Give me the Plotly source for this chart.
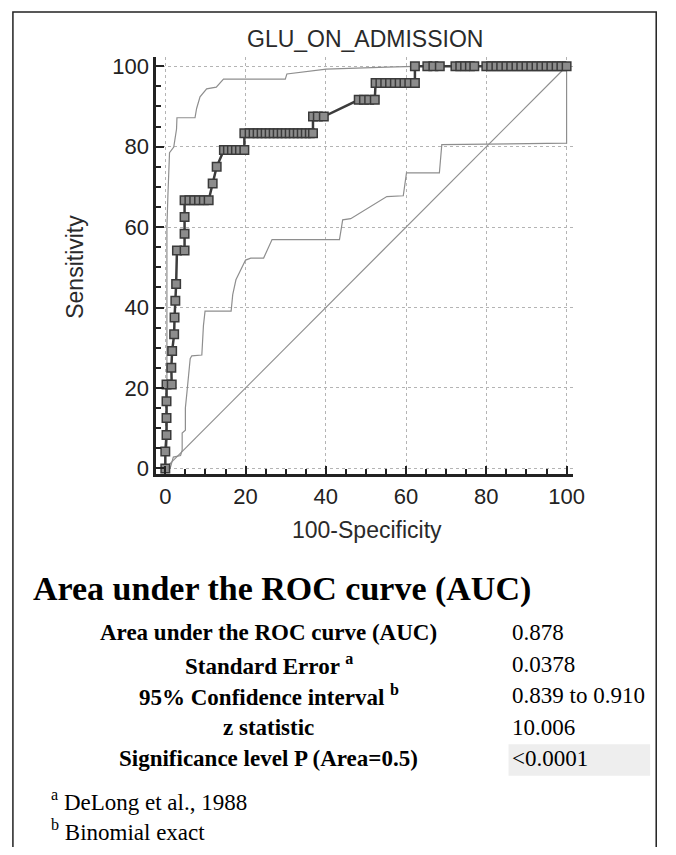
import plotly.graph_objects as go

# page is 676x855; the default body margin of 8px surrounds the figure
W, H = 660, 839
OFF = 8

# ---------------- data ----------------
roc_fpr = [0, 0, 0.3, 0.3, 0.3, 0.3, 1.6, 1.5, 1.7, 2.2, 2.3, 2.5, 2.7, 2.9, 4.8, 4.8, 4.8,
           4.8, 6.0, 7.2, 8.4, 9.6, 10.8, 11.8, 12.8,
           14.6, 15.6, 16.6, 17.6, 18.6, 19.7,
           19.7, 21.0, 22.0, 23.0, 24.0, 25.0, 26.0, 27.0, 28.0, 29.0, 30.0, 31.0, 32.0, 33.0,
           34.0, 35.0, 36.0, 36.8,
           36.8, 38.0, 39.5,
           48.2, 49.5, 50.8, 52.2,
           52.4, 53.6, 54.8, 56.0, 57.2, 58.4, 59.6, 60.8, 62.2,
           62.2, 65.3, 66.8, 68.4, 72.3, 73.5, 74.7, 75.9, 77.0,
           80.0, 81.2, 82.5, 83.7, 85.0, 86.2, 87.5, 88.7, 90.0, 91.2, 92.5, 93.7, 95.0, 96.2,
           97.5, 98.7, 100.0]
roc_tpr = [0, 4.17, 8.33, 12.5, 16.67, 20.83, 20.83, 25.0, 29.17, 33.33, 37.5, 41.67, 45.83, 54.17,
           54.17, 58.33, 62.5,
           66.67, 66.67, 66.67, 66.67, 66.67, 66.67, 70.83, 75.0,
           79.17, 79.17, 79.17, 79.17, 79.17, 79.17,
           83.33, 83.33, 83.33, 83.33, 83.33, 83.33, 83.33, 83.33, 83.33, 83.33, 83.33, 83.33,
           83.33, 83.33, 83.33, 83.33, 83.33, 83.33,
           87.5, 87.5, 87.5,
           91.67, 91.67, 91.67, 91.67,
           95.83, 95.83, 95.83, 95.83, 95.83, 95.83, 95.83, 95.83, 95.83,
           100, 100, 100, 100, 100, 100, 100, 100, 100,
           100, 100, 100, 100, 100, 100, 100, 100, 100, 100, 100, 100, 100, 100, 100, 100, 100]

upper_fpr = [0, 0, 0.4, 0.4, 0.65, 1.05, 2.1, 2.8, 2.9, 7.4, 7.8, 8.65, 10.3, 12.7, 14.5,
             29.9, 30.3, 40.1, 55.2, 62.2, 100]
upper_tpr = [0, 4, 4, 60, 68, 78.5, 79.9, 84.4, 87.2, 87.2, 89.5, 92.4, 94.4, 94.8, 96.8,
             96.8, 98.1, 99.3, 99.8, 100, 100]

lower_fpr = [0, 1.2, 2.0, 3.8, 4.2, 4.2, 5.0, 5.0, 5.4, 5.8, 6.2, 6.6, 9.1, 9.5, 9.9, 16.4,
             16.8, 17.6, 18.5, 20.0, 21.3, 24.5, 26.6, 43.4, 44.2, 46.2, 55.2, 59.3, 60.1,
             68.3, 68.9, 100, 100]
lower_tpr = [0, 0, 2.8, 3.2, 4.5, 8.8, 9.5, 15.0, 19.0, 23.2, 27.3, 28.0, 28.2, 35.5, 39.1,
             39.1, 43.2, 46.9, 48.6, 51.8, 52.3, 52.3, 56.9, 56.9, 61.8, 62.1, 67.6, 67.8,
             73.5, 73.5, 80.5, 80.9, 100]

diag_x = [0, 100]
diag_y = [0, 100]

tick_vals = [0, 20, 40, 60, 80, 100]
tick_text = ["0", "20", "40", "60", "80", "100"]

chart_title = "GLU_ON_ADMISSION"
x_title = "100-Specificity"
y_title = "Sensitivity"

table_heading = "Area under the ROC curve (AUC)"
row_labels = ["Area under the ROC curve (AUC)", "Standard Error <sup>a</sup>",
              "95% Confidence interval <sup>b</sup>", "z statistic",
              "Significance level P (Area=0.5)"]
row_values = ["0.878", "0.0378", "0.839 to 0.910", "10.006", "&lt;0.0001"]
footnotes = ["<sup>a</sup> DeLong et al., 1988", "<sup>b</sup> Binomial exact"]


# ---------------- figure ----------------
def px(x):
    """page pixel x -> paper fraction"""
    return (x - OFF) / W


def py(y):
    """page pixel y (from top) -> paper fraction"""
    return 1 - (y - OFF) / H


fig = go.Figure()

GRID = "#b4b4b4"
AX = "#222222"

fig.add_trace(go.Scatter(x=diag_x, y=diag_y, mode="lines",
                         line=dict(color="#8e8e8e", width=1.2), hoverinfo="skip"))
fig.add_trace(go.Scatter(x=lower_fpr, y=lower_tpr, mode="lines",
                         line=dict(color="#8e8e8e", width=1.2), hoverinfo="skip"))
fig.add_trace(go.Scatter(x=upper_fpr, y=upper_tpr, mode="lines",
                         line=dict(color="#8e8e8e", width=1.2), hoverinfo="skip"))
fig.add_trace(go.Scatter(x=roc_fpr, y=roc_tpr, mode="lines+markers",
                         line=dict(color="#3c3c3c", width=2.5),
                         marker=dict(symbol="square", size=8.5, color="#8c8c8c",
                                     line=dict(color="#3a3a3a", width=1.5)),
                         hoverinfo="skip"))

axis_common = dict(
    showline=True, linecolor=AX, linewidth=3, mirror=False,
    showgrid=True, gridcolor=GRID, griddash="dot", gridwidth=1,
    zeroline=False,
    ticks="inside", ticklen=8, tickwidth=2, tickcolor=AX,
    tickmode="array", tickvals=tick_vals, ticktext=tick_text,
    tickfont=dict(family="Liberation Sans, Arial", size=22, color="#222222"),
    minor=dict(dtick=5, tick0=0, ticks="inside", ticklen=5, tickwidth=1.5,
               tickcolor=AX, showgrid=False),
    fixedrange=True,
)

fig.update_layout(
    width=W, height=H,
    margin=dict(l=0, r=0, t=0, b=0),
    paper_bgcolor="white", plot_bgcolor="white",
    showlegend=False,
    xaxis=dict(domain=[px(159), px(583)], range=[-2.2, 101.7], **axis_common),
    yaxis=dict(domain=[py(477), py(55)], range=[-1.5, 102.2], **axis_common),
)

annotations = []
sans = "Liberation Sans, Arial"
serif = "Liberation Serif, Times New Roman"

annotations.append(dict(text=chart_title, x=px(371), y=py(36), xref="paper", yref="paper",
                        xanchor="center", yanchor="middle", showarrow=False,
                        font=dict(family=sans, size=23, color="#2a2a2a")))
annotations.append(dict(text=x_title, x=px(373), y=py(533), xref="paper", yref="paper",
                        xanchor="center", yanchor="middle", showarrow=False,
                        font=dict(family=sans, size=23, color="#2a2a2a")))
annotations.append(dict(text=y_title, x=px(76), y=py(267), xref="paper", yref="paper",
                        xanchor="center", yanchor="middle", showarrow=False, textangle=-90,
                        font=dict(family=sans, size=23, color="#2a2a2a")))

annotations.append(dict(text="<b>" + table_heading + "</b>", x=px(31), y=py(593),
                        xref="paper", yref="paper", xanchor="left", yanchor="middle",
                        showarrow=False, font=dict(family=serif, size=34, color="#000000")))

row_y = [637, 669, 701, 733, 765]
for lab, val, yy in zip(row_labels, row_values, row_y):
    annotations.append(dict(text="<b>" + lab + "</b>", x=px(273), y=py(yy), xref="paper",
                            yref="paper", xanchor="center", yanchor="middle", showarrow=False,
                            font=dict(family=serif, size=23, color="#000000")))
    annotations.append(dict(text=val, x=px(518), y=py(yy), xref="paper", yref="paper",
                            xanchor="left", yanchor="middle", showarrow=False,
                            font=dict(family=serif, size=23, color="#000000")))

for fn, yy in zip(footnotes, [807, 837]):
    annotations.append(dict(text=fn, x=px(50), y=py(yy), xref="paper", yref="paper",
                            xanchor="left", yanchor="middle", showarrow=False,
                            font=dict(family=serif, size=23, color="#000000")))

fig.update_layout(annotations=annotations)

shapes = [
    # outer frame (its bottom edge is cut off by the image)
    dict(type="rect", xref="paper", yref="paper", x0=px(13), x1=px(667.2), y0=-0.05, y1=py(9),
         line=dict(color="#222222", width=1.5), fillcolor="rgba(0,0,0,0)", layer="above"),
    # grey highlight behind the p-value
    dict(type="rect", xref="paper", yref="paper", x0=px(517), x1=px(661), y0=py(782), y1=py(750),
         line=dict(width=0), fillcolor="#eeeeee", layer="below"),
]
fig.update_layout(shapes=shapes)

fig.write_html("out.html", config={"displayModeBar": False})
